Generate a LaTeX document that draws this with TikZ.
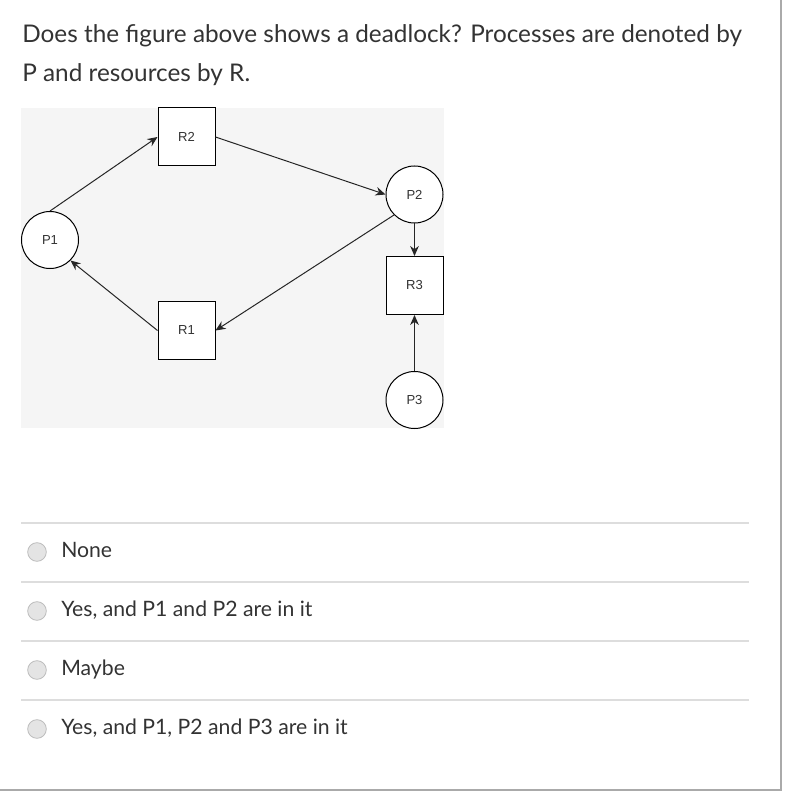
\documentclass[tikz,border=0pt]{standalone}
\usepackage{fontspec}
\setmainfont{Lato}
\newfontfamily\diagfont{Liberation Sans}
\usetikzlibrary{arrows.meta}
\definecolor{txt}{HTML}{333333}
\definecolor{sep}{HTML}{DDDDDD}
\definecolor{frame}{HTML}{AAAAAA}
\definecolor{imgbg}{HTML}{F5F5F5}
\definecolor{radiofill}{HTML}{E4E4E4}
\definecolor{radioedge}{HTML}{BBBBBB}
\tikzset{
  proc/.style={circle,draw=black,fill=white,line width=0.75pt,minimum size=42.75pt,inner sep=0pt,font=\diagfont\fontsize{9.8}{11}\selectfont,text=txt},
  res/.style={rectangle,draw=black,fill=white,line width=0.75pt,minimum width=42.75pt,minimum height=43.5pt,inner sep=0pt,font=\diagfont\fontsize{9.8}{11}\selectfont,text=txt},
  edge/.style={draw=black!85,line width=0.75pt,-{Stealth[length=7.5pt,width=6.5pt]}},
  title/.style={anchor=base west,inner sep=0pt,text=txt,font=\fontsize{18.25}{20}\selectfont},
  opt/.style={anchor=base west,inner sep=0pt,text=txt,font=\fontsize{15.9}{18}\selectfont},
  radio/.style={circle,draw=radioedge,fill=radiofill,line width=0.6pt,minimum size=14pt,inner sep=0pt},
  sepline/.style={draw=sep,line width=1.5pt},
  frameline/.style={draw=frame,line width=1.5pt}
}
\begin{document}
\begin{tikzpicture}[x=0.75pt,y=-0.75pt]
\useasboundingbox (0,0) rectangle (794,792);
\fill[white] (0,0) rectangle (794,792);
% frame
\draw[frameline] (780.5,0) -- (780.5,790);
\draw[frameline] (0,790) -- (781.5,790);
% title
\node[title] (t1) at (22,43) {Does the figure above shows a deadlock? Processes are denoted by};
\node[title] (t2) at (22,82) {P and resources by R.};
% image background
\fill[imgbg] (21,108) rectangle (444,428);
% nodes
\node[res] (R2) at (186.5,137) {R2};
\node[res] (R1) at (186.5,330.5) {R1};
\node[res] (R3) at (414.5,285.5) {R3};
\node[proc] (P1) at (50,240) {P1};
\node[proc] (P2) at (414.5,194.5) {P2};
\node[proc] (P3) at (414.5,400) {P3};
% edges
\draw[edge] (P1.north) -- (R2.west);
\draw[edge] (R2.east) -- (P2.west);
\draw[edge] (P2.south west) -- (R1.east);
\draw[edge] (R1.west) -- (P1.south east);
\draw[edge] (P2.south) -- (R3.north);
\draw[edge] (P3.north) -- (R3.south);
% options
\draw[sepline] (21,522.7) -- (749,522.7);
\draw[sepline] (21,581.7) -- (749,581.7);
\draw[sepline] (21,640.7) -- (749,640.7);
\draw[sepline] (21,700) -- (749,700);
\node[radio] (r1) at (37,552) {};
\node[radio] (r2) at (37,611) {};
\node[radio] (r3) at (37,670) {};
\node[radio] (r4) at (37,729) {};
\node[opt] (o1) at (61,557.7) {None};
\node[opt] (o2) at (61,616.7) {Yes, and P1 and P2 are in it};
\node[opt] (o3) at (61,675.7) {Maybe};
\node[opt] (o4) at (61,734.7) {Yes, and P1, P2 and P3 are in it};
\end{tikzpicture}
\end{document}
